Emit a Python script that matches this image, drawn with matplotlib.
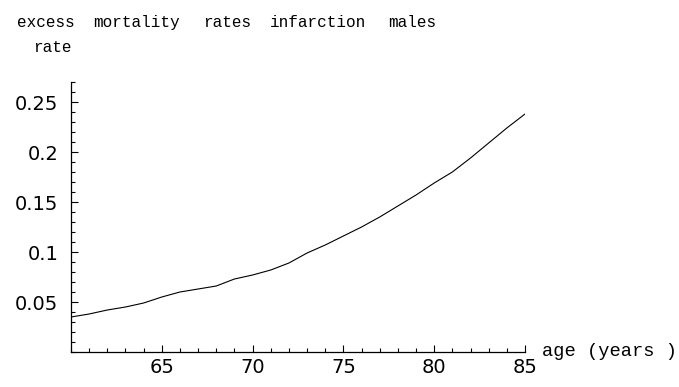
import matplotlib.pyplot as plt
from matplotlib.ticker import MultipleLocator

# excess mortality rate, one point per year of age
age = [60, 61, 62, 63, 64, 65, 66, 67, 68, 69, 70, 71, 72,
       73, 74, 75, 76, 77, 78, 79, 80, 81, 82, 83, 84, 85]
rate = [0.035, 0.038, 0.042, 0.045, 0.049, 0.055, 0.060, 0.063, 0.066,
        0.073, 0.077, 0.082, 0.089, 0.099, 0.107, 0.116, 0.125, 0.135,
        0.146, 0.157, 0.169, 0.180, 0.194, 0.209, 0.224, 0.238]

x_major = [65, 70, 75, 80, 85]
y_major = [0.05, 0.1, 0.15, 0.2, 0.25]
y_labels = ['0.05', '0.1', '0.15', '0.2', '0.25']
title_words = ['excess', 'mortality', 'rates', 'infarction', 'males']

W, H = 679, 387
fig = plt.figure(figsize=(W / 100, H / 100), dpi=100)
ax = fig.add_axes([71 / W, 1 - 352 / H, 454 / W, 270 / H])

ax.plot(age, rate, color='black', lw=0.8)
ax.set_xlim(60, 85)
ax.set_ylim(0, 0.27)

for s in ['top', 'right']:
    ax.spines[s].set_visible(False)
for s in ['left', 'bottom']:
    ax.spines[s].set_linewidth(0.9)

ax.set_xticks(x_major)
ax.set_yticks(y_major)
ax.set_yticklabels(y_labels)
ax.xaxis.set_minor_locator(MultipleLocator(1))
ax.yaxis.set_minor_locator(MultipleLocator(0.01))
ax.tick_params(which='both', direction='in', width=0.8, labelsize=14,
               labelfontfamily='DejaVu Sans', colors='black')
ax.tick_params(which='major', length=5)
ax.tick_params(which='minor', length=3)
ax.tick_params(axis='x', pad=4)
ax.tick_params(axis='y', pad=9)

# title words in a Courier-like font, placed as in the reference
mono = dict(family='Liberation Mono', fontsize=11.5, color='black')
word_x = [17, 93, 203, 270, 388]
for w, px in zip(title_words, word_x):
    fig.text(px / W, 1 - 27 / H, w, ha='left', va='baseline', **mono)
fig.text(33 / W, 1 - 52 / H, 'rate', ha='left', va='baseline', **mono)
fig.text(542 / W, 1 - 352 / H, 'age (years )', ha='left', va='center',
         family='Liberation Mono', fontsize=13.5, color='black')

fig.savefig('out.png', dpi=100)
